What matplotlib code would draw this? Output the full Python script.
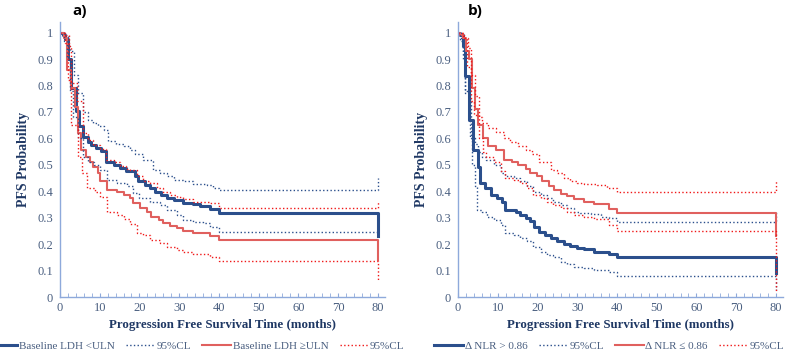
import matplotlib
matplotlib.use("Agg")
import matplotlib.pyplot as plt
from matplotlib.ticker import MultipleLocator

# ---------------- data (months, PFS probability) ----------------
# Panel a) Baseline LDH
a_blue_t = [0, 0.7, 1.3, 2.1, 2.9, 4.0, 4.9, 5.8, 7.0, 7.9, 9.1, 10.4, 11.6, 13.7, 15.0, 16.7, 18.8, 19.6, 21.3, 22.6, 23.8, 25.5, 27.0, 28.6, 31.0, 33.6, 35.3, 37.8, 40.0, 80.0]
a_blue_s = [1.0, 0.99, 0.975, 0.9, 0.79, 0.705, 0.645, 0.607, 0.588, 0.575, 0.562, 0.552, 0.512, 0.5, 0.487, 0.475, 0.456, 0.437, 0.424, 0.412, 0.397, 0.385, 0.376, 0.366, 0.357, 0.351, 0.345, 0.332, 0.316, 0.23]
a_blue_hi_t = [0, 1.3, 2.0, 2.5, 3.5, 4.5, 5.8, 7.0, 8.4, 9.5, 11.0, 12.0, 14.0, 16.0, 17.6, 19.0, 21.0, 23.5, 25.2, 26.9, 28.6, 31.0, 33.6, 37.0, 38.5, 40.0, 80.0]
a_blue_hi_s = [1.0, 0.99, 0.95, 0.93, 0.84, 0.77, 0.70, 0.67, 0.66, 0.645, 0.63, 0.59, 0.58, 0.57, 0.555, 0.54, 0.52, 0.48, 0.468, 0.456, 0.443, 0.437, 0.428, 0.424, 0.411, 0.403, 0.45]
a_blue_lo_t = [0, 1.0, 1.8, 2.6, 3.4, 4.5, 5.9, 7.0, 8.5, 10.0, 11.8, 14.3, 16.8, 18.5, 20.0, 22.7, 25.2, 27.0, 29.4, 31.0, 33.6, 36.0, 37.8, 40.0, 80.0]
a_blue_lo_s = [1.0, 0.97, 0.9, 0.78, 0.68, 0.6, 0.53, 0.51, 0.5, 0.48, 0.443, 0.43, 0.418, 0.392, 0.373, 0.361, 0.348, 0.33, 0.311, 0.292, 0.285, 0.279, 0.266, 0.247, 0.247]
a_red_t = [0, 1.0, 1.7, 2.8, 3.8, 4.5, 5.4, 6.6, 7.5, 8.3, 9.6, 10.1, 11.8, 14.3, 16.0, 17.6, 18.5, 20.2, 21.8, 23.0, 24.8, 26.0, 27.7, 29.4, 31.0, 33.6, 37.8, 40.0, 80.0]
a_red_s = [1.0, 0.98, 0.86, 0.79, 0.72, 0.62, 0.556, 0.53, 0.51, 0.49, 0.47, 0.44, 0.405, 0.399, 0.386, 0.374, 0.355, 0.336, 0.323, 0.304, 0.292, 0.28, 0.269, 0.26, 0.25, 0.241, 0.231, 0.215, 0.14]
a_red_hi_t = [0, 1.3, 2.2, 2.9, 4.2, 5.9, 7.0, 8.4, 10.0, 11.6, 13.7, 15.0, 16.7, 17.6, 19.3, 21.0, 22.7, 24.4, 26.0, 27.7, 29.4, 31.0, 33.6, 37.8, 40.0, 80.0]
a_red_hi_s = [1.0, 0.99, 0.95, 0.81, 0.74, 0.62, 0.595, 0.575, 0.56, 0.52, 0.51, 0.497, 0.485, 0.48, 0.456, 0.437, 0.43, 0.411, 0.399, 0.386, 0.38, 0.37, 0.361, 0.355, 0.337, 0.36]
a_red_lo_t = [0, 1.3, 2.0, 2.8, 4.6, 5.5, 6.9, 8.8, 10.0, 11.8, 14.3, 16.0, 17.6, 19.3, 21.0, 22.7, 25.2, 27.0, 29.4, 31.0, 33.6, 37.8, 40.0, 80.0]
a_red_lo_s = [1.0, 0.96, 0.82, 0.65, 0.53, 0.47, 0.411, 0.399, 0.38, 0.32, 0.311, 0.294, 0.277, 0.241, 0.235, 0.215, 0.203, 0.19, 0.178, 0.169, 0.162, 0.153, 0.138, 0.06]

# Panel b) Delta NLR
b_blue_t = [0, 0.6, 1.3, 1.8, 2.7, 3.8, 5.0, 5.6, 6.9, 8.2, 9.8, 11.1, 11.9, 14.5, 15.7, 17.0, 18.2, 19.1, 20.3, 22.0, 23.3, 25.0, 26.6, 28.3, 30.0, 31.7, 34.2, 38.0, 40.0, 80.0]
b_blue_s = [1.0, 0.99, 0.95, 0.835, 0.67, 0.555, 0.49, 0.43, 0.411, 0.386, 0.373, 0.361, 0.33, 0.323, 0.311, 0.298, 0.286, 0.266, 0.247, 0.235, 0.222, 0.21, 0.201, 0.193, 0.184, 0.18, 0.172, 0.163, 0.15, 0.09]
b_blue_hi_t = [0, 0.6, 1.2, 1.8, 2.8, 3.2, 4.3, 5.0, 6.0, 7.0, 9.0, 10.7, 11.9, 14.0, 15.7, 17.4, 19.0, 20.8, 22.4, 24.0, 25.8, 27.5, 29.2, 30.8, 33.4, 35.9, 38.0, 40.0, 80.0]
b_blue_hi_s = [1.0, 0.98, 0.92, 0.77, 0.75, 0.6, 0.58, 0.55, 0.53, 0.52, 0.5, 0.468, 0.456, 0.45, 0.437, 0.418, 0.399, 0.386, 0.373, 0.361, 0.348, 0.336, 0.323, 0.317, 0.313, 0.304, 0.298, 0.283, 0.32]
b_blue_lo_t = [0, 0.6, 1.2, 1.8, 2.9, 3.5, 4.4, 4.8, 6.0, 7.3, 9.0, 10.7, 11.9, 14.0, 15.7, 17.4, 19.0, 20.8, 22.4, 24.0, 25.8, 27.5, 29.2, 31.7, 34.2, 38.0, 40.0, 80.0]
b_blue_lo_s = [1.0, 0.97, 0.9, 0.78, 0.6, 0.5, 0.42, 0.33, 0.323, 0.304, 0.292, 0.273, 0.241, 0.235, 0.222, 0.21, 0.19, 0.172, 0.159, 0.15, 0.134, 0.125, 0.115, 0.109, 0.102, 0.096, 0.08, 0.027]
b_red_t = [0, 0.6, 1.3, 2.0, 2.8, 3.5, 4.3, 5.0, 6.2, 7.5, 9.5, 11.5, 13.5, 15.0, 17.0, 18.2, 19.9, 21.2, 22.9, 24.1, 25.8, 27.5, 29.2, 31.7, 34.2, 38.0, 40.0, 80.0]
b_red_s = [1.0, 0.99, 0.98, 0.93, 0.9, 0.79, 0.71, 0.65, 0.6, 0.57, 0.555, 0.52, 0.51, 0.5, 0.485, 0.47, 0.456, 0.437, 0.418, 0.403, 0.39, 0.382, 0.37, 0.361, 0.351, 0.332, 0.317, 0.23]
b_red_hi_t = [0, 0.6, 1.5, 2.5, 3.3, 4.3, 5.3, 6.0, 7.5, 9.5, 11.5, 13.0, 15.0, 17.0, 18.5, 20.5, 23.3, 25.0, 26.6, 28.3, 30.0, 31.7, 35.0, 37.6, 40.0, 80.0]
b_red_hi_s = [1.0, 1.0, 0.98, 0.94, 0.84, 0.76, 0.68, 0.66, 0.64, 0.625, 0.6, 0.585, 0.57, 0.555, 0.54, 0.51, 0.481, 0.468, 0.45, 0.437, 0.43, 0.428, 0.424, 0.411, 0.399, 0.443]
b_red_lo_t = [0, 1.3, 2.3, 3.3, 4.0, 5.3, 6.2, 7.0, 9.0, 10.7, 11.9, 14.0, 15.7, 17.4, 19.0, 20.8, 22.4, 24.0, 25.8, 27.5, 29.2, 31.7, 34.2, 38.0, 40.0, 80.0]
b_red_lo_s = [1.0, 0.98, 0.87, 0.74, 0.69, 0.6, 0.55, 0.53, 0.51, 0.475, 0.45, 0.443, 0.43, 0.411, 0.386, 0.373, 0.361, 0.348, 0.336, 0.323, 0.311, 0.304, 0.294, 0.273, 0.25, 0.02]

y_ticks = [0, 0.1, 0.2, 0.3, 0.4, 0.5, 0.6, 0.7, 0.8, 0.9, 1]
y_tick_labels = ["0", "0.1", "0.2", "0.3", "0.4", "0.5", "0.6", "0.7", "0.8", "0.9", "1"]
x_ticks = [0, 10, 20, 30, 40, 50, 60, 70, 80]

a_labels = ["Baseline LDH <ULN", "95%CL", "Baseline LDH \u2265ULN", "95%CL"]
b_labels = ["\u0394 NLR > 0.86", "95%CL", "\u0394 NLR \u2264 0.86", "95%CL"]

# ---------------- style ----------------
BLUE = "#2B4F8C"
RED_S = "#E0605E"
RED_D = "#F01818"
SPINE = "#8EA9DB"
TICKC = "#4A5F80"
LABC = "#1F3864"
SERIF = ["Liberation Serif", "DejaVu Serif"]

fig = plt.figure(figsize=(7.86, 3.53), dpi=100)

def panel(rect, curves, labels, title, title_x, legend_x):
    ax = fig.add_axes(rect)
    handles = []
    for (t, s), color, ls, lw, show in curves:
        assert len(t) == len(s)
        h, = ax.step(t, s, where="post", color=color, ls=ls, lw=lw)
        if show:
            handles.append(h)
    ax.set_xlim(0, 81.8)
    ax.set_ylim(0, 1.04)
    for sp in ["top", "right"]:
        ax.spines[sp].set_visible(False)
    for sp in ["left", "bottom"]:
        ax.spines[sp].set_color(SPINE)
        ax.spines[sp].set_linewidth(1.0)
    ax.set_xticks(x_ticks)
    ax.xaxis.set_minor_locator(MultipleLocator(2))
    ax.set_yticks(y_ticks)
    ax.set_yticklabels(y_tick_labels)
    ax.tick_params(axis="x", which="both", direction="in", colors=SPINE, length=3,
                   labelcolor=TICKC, labelsize=9)
    ax.tick_params(axis="y", which="both", length=0, labelcolor=TICKC, labelsize=9, pad=5)
    for lab in ax.get_xticklabels() + ax.get_yticklabels():
        lab.set_family(SERIF)
    ax.set_xlabel("Progression Free Survival Time (months)", family=SERIF,
                  fontweight="bold", color=LABC, fontsize=9.3, labelpad=4)
    ax.set_ylabel("PFS Probability", family=SERIF, fontweight="bold",
                  color=LABC, fontsize=10, labelpad=5)
    fig.text(title_x, 0.99, title, fontsize=11, fontweight="bold",
             family=["Open Sans", "DejaVu Sans"], va="top", ha="left")
    fig.legend(handles, labels, loc="lower center", bbox_to_anchor=(legend_x, -0.022),
               ncol=4, frameon=False, handlelength=2.6, handletextpad=0.15,
               columnspacing=1.0, prop={"family": SERIF, "size": 8},
               labelcolor=TICKC)
    return ax

panel([0.0763, 0.1586, 0.4135, 0.779],
      [((a_blue_t, a_blue_s), BLUE, "-", 2.2, True),
       ((a_blue_hi_t, a_blue_hi_s), BLUE, ":", 1.0, True),
       ((a_red_t, a_red_s), RED_S, "-", 1.5, True),
       ((a_red_hi_t, a_red_hi_s), RED_D, ":", 1.0, True),
       ((a_blue_lo_t, a_blue_lo_s), BLUE, ":", 1.0, False),
       ((a_red_lo_t, a_red_lo_s), RED_D, ":", 1.0, False)],
      a_labels, "a)", 0.092, 0.25)

panel([0.5827, 0.1586, 0.4135, 0.779],
      [((b_blue_t, b_blue_s), BLUE, "-", 2.2, True),
       ((b_blue_hi_t, b_blue_hi_s), BLUE, ":", 1.0, True),
       ((b_red_t, b_red_s), RED_S, "-", 1.5, True),
       ((b_red_hi_t, b_red_hi_s), RED_D, ":", 1.0, True),
       ((b_blue_lo_t, b_blue_lo_s), BLUE, ":", 1.0, False),
       ((b_red_lo_t, b_red_lo_s), RED_D, ":", 1.0, False)],
      b_labels, "b)", 0.595, 0.775)

fig.savefig("out.png", dpi=100, facecolor="white")
